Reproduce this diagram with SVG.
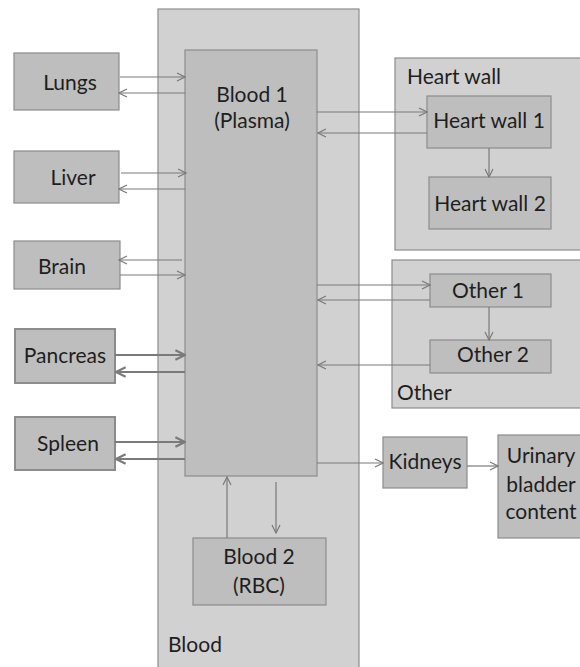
<svg xmlns="http://www.w3.org/2000/svg" width="580" height="667" viewBox="0 0 580 667">
  <style>
    .outer { fill: #d1d1d1; stroke: #8c8c8c; stroke-width: 1.2; }
    .box { fill: #bebebe; stroke: #8c8c8c; stroke-width: 1.2; }
    .box2 { fill: #bebebe; stroke: #8c8c8c; stroke-width: 2; }
    text { font-family: Lato, "Open Sans", "Liberation Sans", sans-serif; font-size: 21px; fill: #1e1e1e; }
    .c { text-anchor: middle; }
    .link { fill: none; stroke: #7a7a7a; stroke-width: 1.2; marker-end: url(#chev); }
    .thick { fill: none; stroke: #7a7a7a; stroke-width: 2.2; marker-end: url(#chevT); }
  </style>
  <defs>
    <marker id="chev" viewBox="0 0 10 10" refX="9" refY="5" markerWidth="10" markerHeight="10" markerUnits="userSpaceOnUse" orient="auto">
      <path d="M1,1 L9,5 L1,9" fill="none" stroke="#7a7a7a" stroke-width="1.2"/>
    </marker>
    <marker id="chevT" viewBox="0 0 10 10" refX="9" refY="5" markerWidth="12" markerHeight="12" markerUnits="userSpaceOnUse" orient="auto">
      <path d="M1,1 L9,5 L1,9" fill="none" stroke="#7a7a7a" stroke-width="1.8"/>
    </marker>
  </defs>

  <!-- containers -->
  <g id="blood">
    <rect class="outer" x="158" y="9" width="201" height="670"/>
    <text x="168" y="652">Blood</text>
  </g>
  <g id="heart-wall">
    <rect class="outer" x="395" y="58" width="190" height="192"/>
    <text x="407" y="84">Heart wall</text>
  </g>
  <g id="other">
    <rect class="outer" x="392" y="260" width="193" height="148"/>
    <text x="397" y="400">Other</text>
  </g>

  <!-- compartments -->
  <g id="blood1">
    <rect class="box" x="185" y="50" width="132" height="426"/>
    <text class="c" x="252" y="102">Blood 1</text>
    <text class="c" x="252" y="128">(Plasma)</text>
  </g>
  <g id="blood2">
    <rect class="box" x="193" y="538" width="133" height="67"/>
    <text class="c" x="259" y="564">Blood 2</text>
    <text class="c" x="259" y="593">(RBC)</text>
  </g>
  <g id="lungs">
    <rect class="box" x="14" y="53" width="105" height="57"/>
    <text class="c" x="70" y="90">Lungs</text>
  </g>
  <g id="liver">
    <rect class="box" x="14" y="151" width="105" height="52"/>
    <text class="c" x="73" y="185">Liver</text>
  </g>
  <g id="brain">
    <rect class="box" x="14" y="241" width="106" height="48"/>
    <text class="c" x="62" y="274">Brain</text>
  </g>
  <g id="pancreas">
    <rect class="box2" x="15" y="329" width="100" height="54"/>
    <text class="c" x="65" y="363">Pancreas</text>
  </g>
  <g id="spleen">
    <rect class="box2" x="15" y="417" width="100" height="53"/>
    <text class="c" x="68" y="451">Spleen</text>
  </g>
  <g id="heart-wall-1">
    <rect class="box" x="427" y="96" width="124" height="52"/>
    <text class="c" x="489" y="128">Heart wall 1</text>
  </g>
  <g id="heart-wall-2">
    <rect class="box" x="429" y="177" width="122" height="52"/>
    <text class="c" x="490" y="211">Heart wall 2</text>
  </g>
  <g id="other-1">
    <rect class="box" x="430" y="274" width="121" height="33"/>
    <text class="c" x="488" y="298">Other 1</text>
  </g>
  <g id="other-2">
    <rect class="box" x="430" y="340" width="121" height="33"/>
    <text class="c" x="493" y="362">Other 2</text>
  </g>
  <g id="kidneys">
    <rect class="box" x="383" y="437" width="84" height="51"/>
    <text class="c" x="425" y="469">Kidneys</text>
  </g>
  <g id="urinary-bladder">
    <rect class="box" x="498" y="435" width="87" height="103"/>
    <text class="c" x="541" y="463">Urinary</text>
    <text class="c" x="541" y="492">bladder</text>
    <text class="c" x="541" y="519">content</text>
  </g>

  <!-- connectors -->
  <g id="connectors">
    <path class="link" d="M120,77 H185"/>
    <path class="link" d="M185,93 H119"/>
    <path class="link" d="M121,173 H186"/>
    <path class="link" d="M185,189 H119"/>
    <path class="link" d="M182,260 H119"/>
    <path class="link" d="M120,275 H185"/>
    <path class="thick" d="M115,355 H185"/>
    <path class="thick" d="M185,372 H116"/>
    <path class="thick" d="M115,442 H185"/>
    <path class="thick" d="M185,459 H116"/>
    <path class="link" d="M317,112 H427"/>
    <path class="link" d="M427,133 H318"/>
    <path class="link" d="M489,148 V177"/>
    <path class="link" d="M317,285 H430"/>
    <path class="link" d="M430,300 H318"/>
    <path class="link" d="M489,307 V340"/>
    <path class="link" d="M430,365 H318"/>
    <path class="link" d="M317,463 H383"/>
    <path class="link" d="M467,466 H498"/>
    <path class="link" d="M227,538 V477"/>
    <path class="link" d="M276,482 V533"/>
  </g>
</svg>
